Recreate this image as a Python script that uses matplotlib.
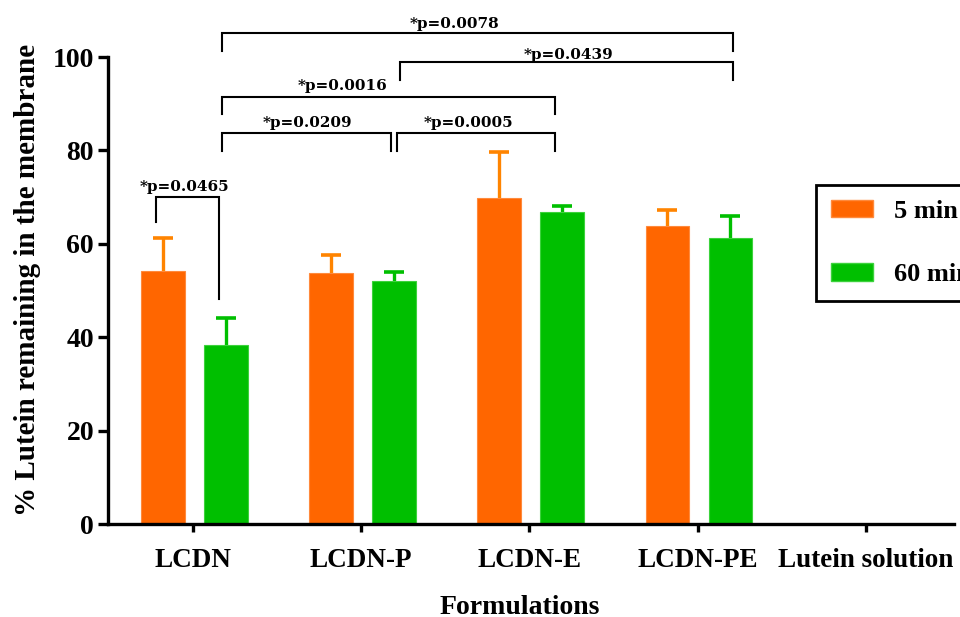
import numpy as np
import matplotlib
matplotlib.use('Agg')
import matplotlib.pyplot as plt
from matplotlib.patches import Patch

plt.rcParams['font.family'] = ['Liberation Serif', 'DejaVu Serif']
plt.rcParams['font.weight'] = 'bold'

# data
formulations = ['LCDN', 'LCDN-P', 'LCDN-E', 'LCDN-PE', 'Lutein solution']
mean_5min = [54.2, 53.7, 69.8, 63.8, np.nan]
sd_5min = [7.0, 3.8, 9.9, 3.5, np.nan]
mean_60min = [38.3, 52.1, 66.9, 61.2, np.nan]
sd_60min = [5.9, 1.8, 1.1, 4.8, np.nan]

# (x1, x2, y line, y1 tip, y2 tip, label, label x, label baseline)
comparisons = [
    (-0.222, 0.152, 70.1, 64.7, 48.2, '*p=0.0465', -0.052, 71.4),
    (0.175, 1.179, 83.8, 79.9, 79.9, '*p=0.0209', 0.683, 85.1),
    (1.211, 2.150, 83.8, 79.9, 79.9, '*p=0.0005', 1.637, 85.1),
    (0.175, 2.150, 91.5, 87.7, 87.7, '*p=0.0016', 0.890, 92.9),
    (1.231, 3.210, 98.9, 95.1, 95.1, '*p=0.0439', 2.235, 99.5),
    (0.175, 3.210, 105.2, 101.3, 101.3, '*p=0.0078', 1.555, 106.3),
]

orange = '#FF6600'
orange_err = '#FF8400'
green = '#00BF00'

fig = plt.figure(figsize=(9.6, 6.17), dpi=100)
ax = fig.add_axes([0.1125, 0.1507, 0.8815, 0.7569])

x = np.arange(len(formulations))
w = 0.26
xo = x - 0.18
xg = x + 0.195

ax.bar(xo, mean_5min, w, color=orange, edgecolor='#FF8A3C', linewidth=0.8, zorder=2)
ax.bar(xg, mean_60min, w, color=green, edgecolor='#3CD23C', linewidth=0.8, zorder=2)

zeros = np.zeros(len(formulations))
for xs, m, s, c in [(xo, mean_5min, sd_5min, orange_err), (xg, mean_60min, sd_60min, green)]:
    eb = ax.errorbar(xs, m, yerr=[zeros, s], fmt='none', ecolor=c,
                     elinewidth=2.4, capsize=7.5, capthick=2.6, zorder=1)
    eb[1][0].set_visible(False)  # no cap on the lower side

for x1, x2, yl, t1, t2, lab, lx, ly in comparisons:
    ax.plot([x1, x1, x2, x2], [t1, yl, yl, t2], color='black', lw=1.5,
            clip_on=False, solid_joinstyle='miter')
    ax.text(lx, ly, lab, ha='center', va='baseline', fontsize=11,
            family='DejaVu Serif', fontweight='bold', clip_on=False)

ax.set_xlim(-0.505, 4.525)
ax.set_ylim(0, 100)
ax.set_yticks([0, 20, 40, 60, 80, 100])
ax.set_xticks(x)
ax.set_xticklabels(formulations)

for side in ['top', 'right']:
    ax.spines[side].set_visible(False)
for side in ['left', 'bottom']:
    ax.spines[side].set_linewidth(2.4)

ax.tick_params(axis='y', direction='out', length=7, width=2.4, labelsize=20, pad=3)
ax.tick_params(axis='x', direction='out', length=6, width=2.4, labelsize=19.5, pad=11)
for t in ax.get_xticklabels() + ax.get_yticklabels():
    t.set_fontweight('bold')

ax.set_ylabel('% Lutein remaining in the membrane', fontsize=21, fontweight='bold')
ax.yaxis.set_label_coords(-0.0795, 0.522)
ax.set_xlabel('Formulations', fontsize=20, fontweight='bold', labelpad=16)
ax.xaxis.label.set_x(0.486)

handles = [Patch(facecolor=orange, edgecolor='#FF8A3C'), Patch(facecolor=green, edgecolor='#3CD23C')]
leg = ax.legend(handles, ['5 min', '60 min'], loc='upper left',
                bbox_to_anchor=(0.837, 0.726), borderaxespad=0,
                fancybox=False, edgecolor='black', framealpha=1,
                handlelength=1.6, handleheight=0.65, handletextpad=0.8,
                labelspacing=1.52, borderpad=0.56,
                prop={'family': 'Liberation Serif', 'weight': 'bold', 'size': 19})
leg.get_frame().set_linewidth(2.0)

fig.savefig('out.png', dpi=100)
